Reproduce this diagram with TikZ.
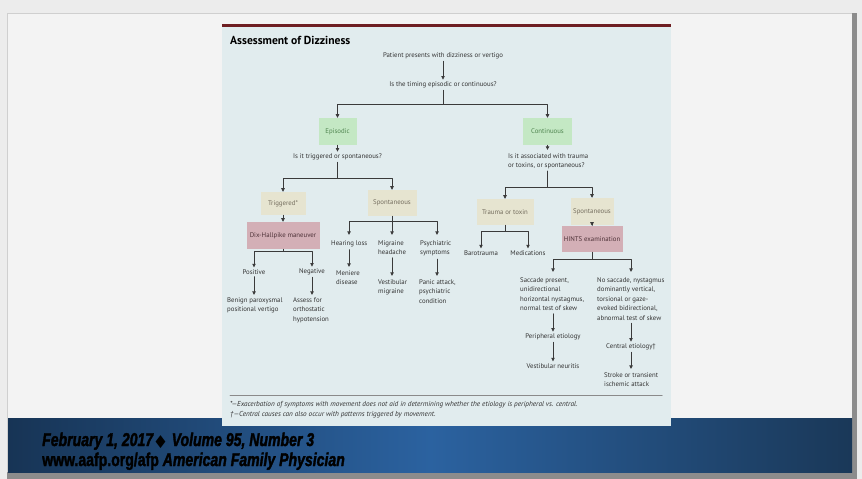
\documentclass[tikz,border=0pt]{standalone}
\usepackage{fontspec}
\setmainfont{PT Sans}
\newfontfamily\footfont[FakeBold=2.2]{Liberation Sans}
\newfontfamily\symfont{DejaVu Sans}
\usetikzlibrary{arrows.meta}
\definecolor{slidebg}{HTML}{ECECEC}
\definecolor{slidepage}{HTML}{F3F3F3}
\definecolor{slideedge}{HTML}{CFCFCF}
\definecolor{slidedark}{HTML}{8C8C8C}
\definecolor{bandL}{HTML}{173455}
\definecolor{bandM}{HTML}{2B62A0}
\definecolor{bandR}{HTML}{1A3858}
\definecolor{panelfill}{HTML}{E1ECEE}
\definecolor{panelbar}{HTML}{6E1E22}
\definecolor{figink}{HTML}{3A3A3A}
\definecolor{figtext}{HTML}{333333}
\definecolor{figrule}{HTML}{8A8A8A}
\definecolor{boxgreen}{HTML}{C4E8C4}
\definecolor{boxgreentext}{HTML}{4F854F}
\definecolor{boxbeige}{HTML}{E6E4D0}
\definecolor{boxbeigetext}{HTML}{746D5E}
\definecolor{boxmauve}{HTML}{D3AFB6}
\definecolor{boxmauvetext}{HTML}{4E3238}

\begin{document}
\begin{tikzpicture}[x=1pt, y=-1pt, line cap=round, line join=round,
    flow/.style={draw=figink, line width=0.7pt},
    arr/.style={flow, -{Triangle[length=3.6pt, width=3.4pt]}},
    txt/.style={text=figtext, font=\fontsize{6.8}{9.5}\selectfont, inner sep=2pt},
    txtl/.style={txt, align=left, anchor=north west, inner sep=0pt},
    box/.style={font=\fontsize{6.8}{9.5}\selectfont, inner sep=0pt},
    greenbox/.style={box, fill=boxgreen, text=boxgreentext},
    beigebox/.style={box, fill=boxbeige, text=boxbeigetext},
    mauvebox/.style={box, fill=boxmauve, text=boxmauvetext},
    note/.style={anchor=west, inner sep=0pt, text=figtext, font=\itshape\fontsize{7.2}{8}\selectfont},
    foot/.style={text=black, font=\footfont\bfseries\fontsize{18.5}{18.5}\selectfont, anchor=base west, inner sep=0pt}]
  \useasboundingbox (0,0) rectangle (862,479);

  % 幻灯片底与边框
  \fill[slidebg] (0,0) rectangle (862,479);
  \fill[slidepage] (7,13) rectangle (852,472);
  \draw[slideedge, line width=0.8pt] (7,472) -- (7,13) -- (852,13);
  \fill[slidedark] (852,13) rectangle (857,479);
  \fill[slidedark] (7,472) rectangle (857,479);

  % 蓝色底条（middle color 要放在最后）
  \shade[left color=bandL, right color=bandR, middle color=bandM] (8,418) rectangle (852,472);

  % 图框（上沿深红色细条）
  \fill[panelfill] (222,27) rectangle (671,426);
  \fill[panelbar] (222,24) rectangle (671,27);
  \node[anchor=west, inner sep=0pt, text=black, font=\bfseries\fontsize{11.6}{13}\selectfont] (title) at (230,40) {Assessment of Dizziness};

  % 顶部两行
  \node[txt] (patient) at (443,56) {Patient presents with dizziness or vertigo};
  \node[txt] (timing) at (443,85) {Is the timing episodic or continuous?};
  \draw[arr] (patient) -- (timing);
  \coordinate (jtop) at (443,104);

  % 第一层方框
  \node[greenbox, minimum width=38pt, minimum height=27pt] (episodic) at (337.5,131.5) {Episodic};
  \node[greenbox, minimum width=49pt, minimum height=27pt] (continuous) at (547.5,131.5) {Continuous};
  \draw[flow] (timing.south) -- (jtop);
  \draw[arr] (jtop) -| (episodic.north);
  \draw[arr] (jtop) -| (continuous.north);

  % 左支：episodic
  \node[txt] (trigq) at (337.5,157) {Is it triggered or spontaneous?};
  \draw[arr] (episodic.south) -- (trigq.north);
  \coordinate (jtrig) at (337.5,178);
  \node[beigebox, minimum width=45pt, minimum height=23pt] (triggered) at (283,203.5) {Triggered*};
  \node[beigebox, minimum width=49pt, minimum height=26pt] (spontA) at (392,203) {Spontaneous};
  \draw[flow] (trigq.south) -- (jtrig);
  \draw[arr] (jtrig) -| (triggered.north);
  \draw[arr] (jtrig) -| (spontA.north);

  \node[mauvebox, minimum width=73pt, minimum height=27pt] (dix) at (283,235.5) {Dix-Hallpike maneuver};
  \draw[arr] (triggered.south) -- (dix.north);
  \coordinate (jdix) at (283,251);
  \node[txt] (positive) at (254,272) {Positive};
  \node[txt] (negative) at (312,272) {Negative};
  \draw[flow] (dix.south) -- (jdix);
  \draw[arr] (jdix) -| (positive.north);
  \draw[arr] (jdix) -| (negative.north);
  \node[txtl] (bppv) at (227,297) {Benign paroxysmal\\positional vertigo};
  \node[txtl] (assess) at (293,297) {Assess for\\orthostatic\\hypotension};
  \draw[arr] (positive.south) -- ([yshift=2pt]positive.south |- bppv.north);
  \draw[arr] (negative.south) -- ([yshift=2pt]negative.south |- assess.north);

  % spontaneous 三分支
  \coordinate (jspon) at (392,221);
  \coordinate (hearingtop) at (349,235);
  \coordinate (migtop) at (392,235);
  \coordinate (psychtop) at (437,235);
  \node[txtl] (hearing) at (331,240) {Hearing loss};
  \node[txtl] (migraine) at (378,240) {Migraine\\headache};
  \node[txtl] (psych) at (420,240) {Psychiatric\\symptoms};
  \draw[flow] (spontA.south) -- (jspon);
  \draw[arr] (jspon) -| (hearingtop);
  \draw[arr] (jspon) -- (migtop);
  \draw[arr] (jspon) -| (psychtop);
  \node[txtl] (meniere) at (336,270) {Meniere\\disease};
  \node[txtl] (vestmig) at (378,279) {Vestibular\\migraine};
  \node[txtl] (panic) at (419,279) {Panic attack,\\psychiatric\\condition};
  \draw[arr] (hearingtop |- hearing.south) ++(0,3) -- ([yshift=3pt]hearingtop |- meniere.north);
  \draw[arr] (migtop |- migraine.south) ++(0,3) -- ([yshift=3pt]migtop |- vestmig.north);
  \draw[arr] (psychtop |- psych.south) ++(0,3) -- ([yshift=3pt]psychtop |- panic.north);

  % 右支：continuous
  \node[txtl] (assocq) at (508,153) {Is it associated with trauma\\or toxins, or spontaneous?};
  \draw[arr] (continuous.south) -- ([yshift=3pt]continuous.south |- assocq.north);
  \coordinate (jcont) at (547.5,187);
  \node[beigebox, minimum width=57pt, minimum height=26pt] (trauma) at (505,212) {Trauma or toxin};
  \node[beigebox, minimum width=43pt, minimum height=27pt] (spontB) at (592,211.5) {Spontaneous};
  \draw[flow] ([yshift=-2pt]continuous.south |- assocq.south) -- (jcont);
  \draw[arr] (jcont) -| (trauma.north);
  \draw[arr] (jcont) -| (spontB.north);

  \coordinate (jtrauma) at (505,231);
  \node[txt] (baro) at (481,253) {Barotrauma};
  \node[txt] (meds) at (528,253) {Medications};
  \draw[flow] (trauma.south) -- (jtrauma);
  \draw[arr] (jtrauma) -| (baro.north);
  \draw[arr] (jtrauma) -| (meds.north);

  \node[mauvebox, minimum width=61pt, minimum height=26pt] (hints) at (592,239) {HINTS examination};
  \draw[arr] (spontB.south) -- (hints.north);
  \coordinate (jhints) at (592,259);
  \coordinate (periph) at (553,272);
  \coordinate (central) at (631,272);
  \draw[flow] (hints.south) -- (jhints);
  \draw[arr] (jhints) -| (periph);
  \draw[arr] (jhints) -| (central);
  \node[txtl] (saccade) at (520,277) {Saccade present,\\unidirectional\\horizontal nystagmus,\\normal test of skew};
  \node[txtl] (nosaccade) at (597,277) {No saccade, nystagmus\\dominantly vertical,\\torsional or gaze-\\evoked bidirectional,\\abnormal test of skew};

  \node[txt] (periphet) at (553,337) {Peripheral etiology};
  \node[txt] (neuritis) at (553,366) {Vestibular neuritis};
  \draw[arr] (periph |- saccade.south) ++(0,3) -- (periphet.north);
  \draw[arr] (periphet.south) -- (neuritis.north);
  \node[txt] (centralet) at (631,347) {Central etiology\textdagger};
  \node[txtl] (stroke) at (604,372) {Stroke or transient\\ischemic attack};
  \draw[arr] (central |- nosaccade.south) ++(0,3) -- (centralet.north);
  \draw[arr] (centralet.south) -- ([yshift=3pt]centralet.south |- stroke.north);

  % 脚注
  \draw[figrule, line width=1pt] (230,395) -- (662,395);
  \node[note] (note1) at (230,405)
    {*---Exacerbation of symptoms with movement does not aid in determining whether the etiology is peripheral vs. central.};
  \node[note] (note2) at (230,415)
    {\textdagger---Central causes can also occur with patterns triggered by movement.};

  % 期刊信息
  \node[foot] (issue) at (42,446) {\scalebox{0.76}[1]{\itshape February 1, 2017\,{\symfont\fontsize{17}{17}\selectfont ◆}\, Volume 95, Number 3}};
  \node[foot] (site) at (42,466) {\scalebox{0.76}[1]{www.aafp.org/afp \itshape American Family Physician}};
\end{tikzpicture}
\end{document}
